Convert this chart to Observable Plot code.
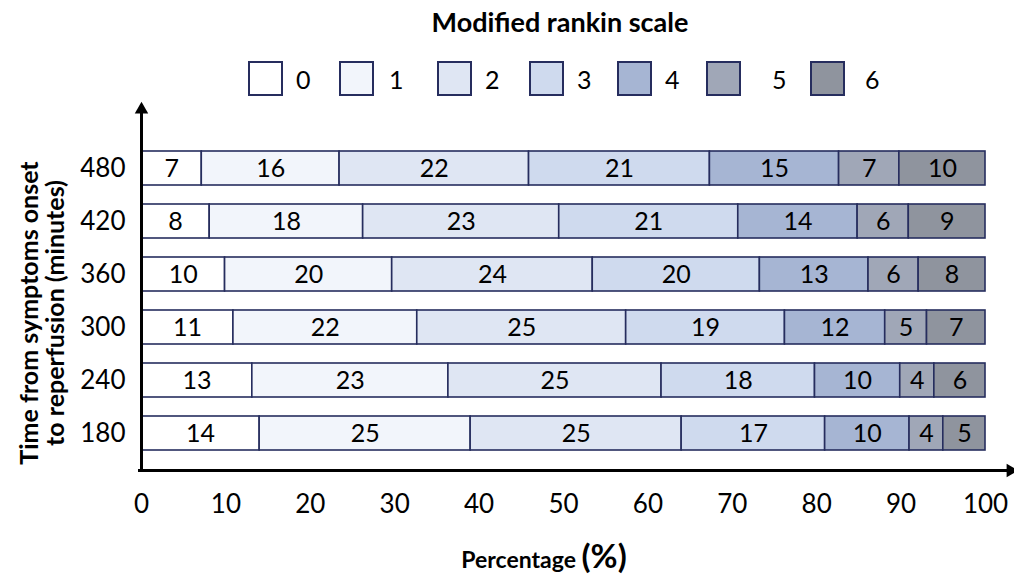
<!DOCTYPE html>
<html><head><meta charset="utf-8">
<script src="https://cdn.jsdelivr.net/npm/d3@7"></script>
<script src="https://cdn.jsdelivr.net/npm/@observablehq/plot@0.6"></script>
<style>
body{margin:0;background:#fff;font-family:Lato,"Open Sans",sans-serif;color:#000;width:1014px;height:576px;overflow:hidden;}
#title{height:45px;line-height:44px;font-size:27px;font-weight:bold;text-align:center;padding-left:106px;box-sizing:border-box;}
#legend{position:relative;height:60px;}
.item{position:absolute;top:16px;display:flex;align-items:center;}
.sw{width:31px;height:31px;border:2px solid #262d5e;}
.lab{font-size:25px;}
#chart svg{display:block;}
#xlabel{height:41px;font-weight:bold;text-align:center;padding-left:74px;box-sizing:border-box;font-size:23px;line-height:40px;}
#xlabel span{font-size:33px;}
</style></head><body>
<div id="title">Modified rankin scale</div>
<div id="legend"></div>
<div id="chart"></div>
<div id="xlabel">Percentage <span>(%)</span></div>
<script>
const times = ["480","420","360","300","240","180"];
const scores = ["0","1","2","3","4","5","6"];
const colors = ["#ffffff","#f2f5fb","#dfe6f3","#cfdaee","#a6b5d3","#a0a7b7","#8f949e"];
const v480 = [7,16,22,21,15,7,10];
const v420 = [8,18,23,21,14,6,9];
const v360 = [10,20,24,20,13,6,8];
const v300 = [11,22,25,19,12,5,7];
const v240 = [13,23,25,18,10,4,6];
const v180 = [14,25,25,17,10,4,5];
const xTicks = [0,10,20,30,40,50,60,70,80,90,100];
const yTitle = "Time from symptoms onset\nto reperfusion (minutes)";

const series = [v480,v420,v360,v300,v240,v180];
const rows = times.flatMap((t,i)=>series[i].map((v,j)=>({time:t, mrs:scores[j], value:v})));

// legend
const legendLefts = [248,339,437,529,617,706,810];
const labelGaps = [13,15,13,13,13,31,20];
const lg = document.getElementById("legend");
scores.forEach((s,i)=>{
  const it = document.createElement("div");
  it.className="item"; it.style.left = legendLefts[i]+"px";
  it.innerHTML = `<div class="sw" style="background:${colors[i]}"></div><div class="lab" style="margin-left:${labelGaps[i]}px">${s}</div>`;
  lg.appendChild(it);
});

const stroke = "#262d5e";
const chart = Plot.plot({
  width:1014, height:430,
  marginLeft:141, marginRight:29, marginTop:26, marginBottom:65,
  style:{fontFamily:"Lato, 'Open Sans', sans-serif", color:"#000", background:"#fff", overflow:"visible"},
  x:{domain:[0,100], percent:true, axis:null},
  y:{domain:times, paddingInner:0.36, paddingOuter:0.36, axis:null},
  color:{domain:scores, range:colors},
  marks:[
    Plot.barX(rows, Plot.stackX({x:"value", y:"time", z:"mrs", fill:"mrs", offset:"normalize", stroke, strokeWidth:1.6})),
    Plot.text(rows, Plot.stackX({x:"value", y:"time", z:"mrs", text:d=>String(d.value), offset:"normalize", fontSize:25, fill:"#000"})),
    Plot.axisX({ticks:xTicks, tickSize:0, tickPadding:24, fontSize:26, label:null, tickFormat:d=>String(d)}),
    Plot.axisY({tickSize:0, tickPadding:16, fontSize:26, label:null}),
    Plot.ruleX([0], {insetTop:-22, stroke:"#000", strokeWidth:3}),
    Plot.frame({anchor:"bottom", insetLeft:-2, insetRight:-26, stroke:"#000", strokeWidth:3}),
    Plot.dot([0], {frameAnchor:"top-left", dy:-22, symbol:"triangle", r:5, fill:"#000", stroke:null}),
    Plot.dot([0], {frameAnchor:"bottom-right", dx:25, symbol:"triangle", rotate:90, r:5, fill:"#000", stroke:null}),
    Plot.text([yTitle], {text:d=>d, frameAnchor:"left", textAnchor:"middle", rotate:-90, dx:-99, dy:12, fontSize:25, fontWeight:"bold", lineHeight:1.05, fill:"#000"})
  ]
});
document.getElementById("chart").appendChild(chart);
</script>
</body></html>
